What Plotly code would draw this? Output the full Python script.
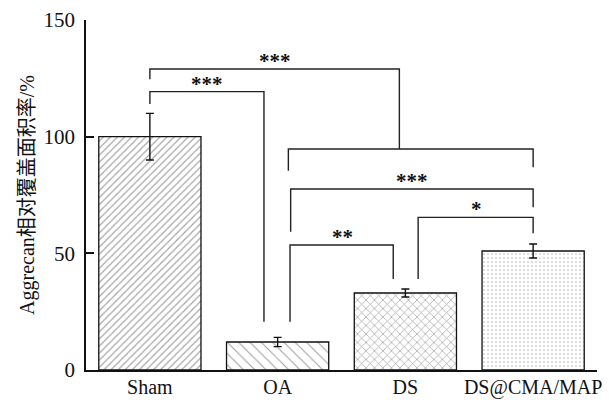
import plotly.graph_objects as go

# Group labels and measured coverage (mean ± SD)
groups = ["Sham", "OA", "DS", "DS@CMA/MAP"]
coverage = [100, 12, 33, 51]
coverage_sd = [10, 2, 1.7, 3]

# Significance marks between groups
sig_labels = ["***", "***", "***", "*", "**"]

# Fill patterns per group
patterns = [
    dict(shape="/", size=5, solidity=0.22, fgcolor="#444", bgcolor="white"),
    dict(shape="\\", size=8, solidity=0.14, fgcolor="#444", bgcolor="white"),
    dict(shape="x", size=6, solidity=0.22, fgcolor="#444", bgcolor="white"),
    dict(shape=".", size=4, solidity=0.15, fgcolor="#777", bgcolor="white"),
]

fig = go.Figure()
for i, g in enumerate(groups):
    fig.add_trace(go.Bar(
        x=[g], y=[coverage[i]],
        width=0.8,
        marker=dict(color="white", pattern=patterns[i],
                    line=dict(color="#111", width=1.3)),
        error_y=dict(type="data", array=[coverage_sd[i]], visible=True,
                     color="#111", thickness=1.4, width=4),
        showlegend=False,
    ))

# Bracket geometry: (left x, right x, top, left leg end, right leg end)
brackets = [
    (0.0, 0.893, 119.3, 114.0, 20.7),
    (0.0, 1.953, 129.0, 124.6, 94.7),
    (1.084, 3.0, 94.7, 85.4, 86.9),
    (1.102, 3.0, 77.6, 59.3, 69.7),
    (2.10, 3.0, 65.4, 39.0, 58.6),
    (1.097, 1.905, 53.6, 20.7, 39.0),
]
line_style = dict(color="#222", width=1.4)
for x0, x1, top, yl, yr in brackets:
    fig.add_shape(type="path", xref="x", yref="y",
                  path=f"M {x0} {yl} L {x0} {top} L {x1} {top} L {x1} {yr}",
                  line=line_style)

# Star positions: (x, bracket top)
star_pos = [(0.45, 119.3), (0.977, 129.0), (2.055, 77.6), (2.559, 65.4), (1.507, 53.6)]
for (sx, sy), lab in zip(star_pos, sig_labels):
    fig.add_annotation(x=sx, y=sy, xref="x", yref="y", text=f"<b>{lab}</b>",
                       showarrow=False, yanchor="middle", yshift=8,
                       font=dict(family="Liberation Serif", size=21, color="#111"))

fig.update_layout(
    width=611, height=400,
    margin=dict(l=86, r=14, t=20, b=30),
    paper_bgcolor="white", plot_bgcolor="white",
    font=dict(family="Liberation Serif, Noto Sans CJK SC", size=21, color="#111"),
    bargap=0.2,
)
fig.update_xaxes(
    range=[-0.5, 3.5], showline=True, linecolor="#111", linewidth=1.5,
    ticks="", showgrid=False, tickfont=dict(size=20), ticklabelstandoff=-2,
    automargin=False,
)
fig.update_yaxes(
    range=[0, 150], tickvals=[0, 50, 100, 150], showline=True,
    linecolor="#111", linewidth=1.5, ticks="inside", ticklen=8, tickwidth=1.5,
    tickcolor="#111", showgrid=False, zeroline=False, tickfont=dict(size=21),
    ticklabelstandoff=5, automargin=False,
    title=dict(text="Aggrecan相对覆盖面积率/%", standoff=4,
               font=dict(family="Liberation Serif, Noto Sans CJK SC", size=20)),
)

fig.write_html("out.html")
